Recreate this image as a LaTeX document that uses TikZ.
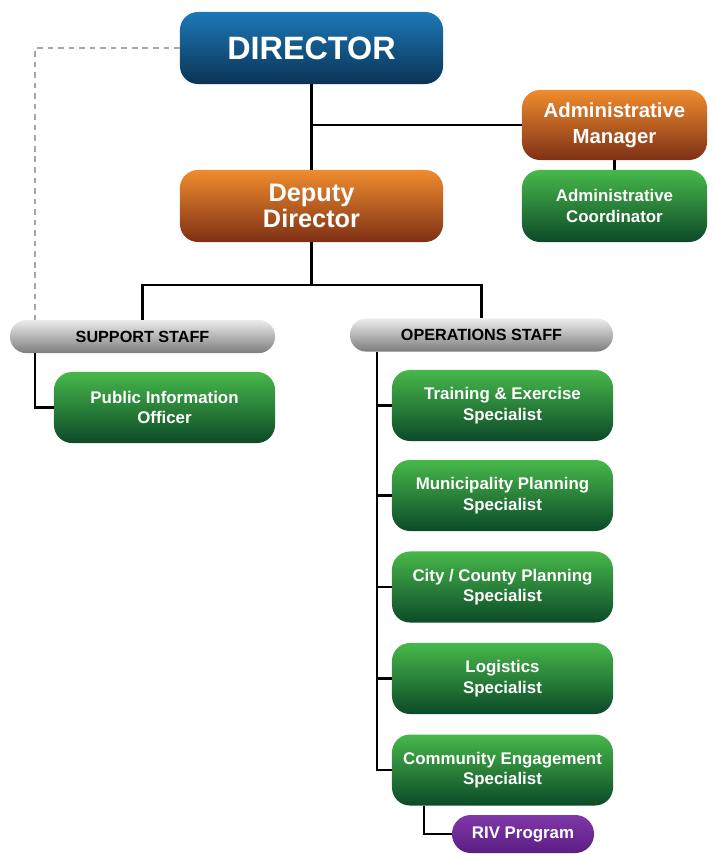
\documentclass[tikz,border=0pt]{standalone}
\usepackage{fontspec}
\setmainfont{Liberation Sans}

\definecolor{bluetop}{HTML}{1D78B8}
\definecolor{bluemid}{HTML}{13629C}
\definecolor{bluebot}{HTML}{0A3355}
\definecolor{orgtop}{HTML}{F08C2E}
\definecolor{orgmid}{HTML}{DA6C25}
\definecolor{orgbot}{HTML}{7E3015}
\definecolor{grntop}{HTML}{47B84A}
\definecolor{grnmid}{HTML}{2E9A43}
\definecolor{grnbot}{HTML}{0C4A28}
\definecolor{graytop}{HTML}{EDEDED}
\definecolor{graymid}{HTML}{D2D2D2}
\definecolor{graybot}{HTML}{7C7C7C}
\definecolor{purtop}{HTML}{8038A8}
\definecolor{purbot}{HTML}{5A1E82}

\tikzset{
    box/.style={rounded corners=0.45cm, align=center, text=white,
        font=\bfseries\fontsize{12}{14.5}\selectfont,
        inner sep=0pt},
    bluebox/.style={box, top color=bluetop, middle color=bluemid, bottom color=bluebot},
    orgbox/.style={box, top color=orgtop, middle color=orgmid, bottom color=orgbot},
    grnbox/.style={box, top color=grntop, middle color=grnmid, bottom color=grnbot,
        minimum width=5.525cm, minimum height=1.775cm},
    staffbox/.style={box, rounded corners=0.41cm, text=black,
        top color=graytop, middle color=graymid, bottom color=graybot,
        minimum height=0.83cm, font=\bfseries\fontsize{11.5}{13}\selectfont},
    purbox/.style={box, rounded corners=0.47cm, top color=purtop, bottom color=purbot,
        minimum width=3.55cm, minimum height=0.95cm},
    link/.style={line width=1.6pt, black},
    dotlink/.style={line width=1.2pt, gray!70, dash pattern=on 4pt off 3.5pt}
}

\begin{document}
\begin{tikzpicture}[x=0.025cm, y=-0.025cm]
    \useasboundingbox (0,0) rectangle (713,854);

    % top of the chart
    \node [bluebox, minimum width=6.575cm, minimum height=1.8cm,
        font=\bfseries\fontsize{23}{26}\selectfont] (dir) at (311.5,48) {DIRECTOR};
    \node [orgbox, minimum width=4.625cm, minimum height=1.75cm,
        font=\bfseries\fontsize{14.5}{18.5}\selectfont] (adm) at (614.5,125) {Administrative\\Manager};
    \node [grnbox, minimum width=4.625cm, minimum height=1.8cm] (admc) at (614.5,206) {Administrative\\Coordinator};
    \node [orgbox, minimum width=6.575cm, minimum height=1.8cm,
        font=\bfseries\fontsize{18}{18.5}\selectfont] (dep) at (311.5,206) {Deputy\\Director};

    % staff groups
    \node [staffbox, minimum width=6.625cm] (sup) at (142.5,336.5) {SUPPORT STAFF};
    \node [staffbox, minimum width=6.575cm] (ops) at (481.5,335) {OPERATIONS STAFF};

    \node [grnbox] (pio) at (164.5,407.5) {Public Information\\Officer};

    \node [grnbox] (trn) at (502.5,405.5) {Training \& Exercise\\Specialist};
    \node [grnbox] (mun) at (502.5,495.5) {Municipality Planning\\Specialist};
    \node [grnbox] (cty) at (502.5,587) {City / County Planning\\Specialist};
    \node [grnbox] (log) at (502.5,678.5) {Logistics\\Specialist};
    \node [grnbox] (ce) at (502.5,770) {Community Engagement\\Specialist};
    \node [purbox] (riv) at (523,834) {RIV Program};

    \coordinate (split) at (311.5,285);
    \coordinate (supT) at (35,320);
    \coordinate (supB) at (35,353);
    \coordinate (opsB) at (377,352);
    \coordinate (ceB) at (424,806);

    % lines
    \draw [dotlink] (dir.west) -| (supT);
    \draw [link] (dir.south) -- (dep.north);
    \draw [link] (dir.south |- adm.west) -- (adm.west);
    \draw [link] (adm.south) -- (admc.north);
    \draw [link] (dep.south) -- (split);
    \draw [link] (sup.north) |- (split) -| (ops.north);
    \draw [link] (supB) |- (pio.west);
    \draw [link] (opsB) |- (trn.west);
    \draw [link] (opsB) |- (mun.west);
    \draw [link] (opsB) |- (cty.west);
    \draw [link] (opsB) |- (log.west);
    \draw [link] (opsB) |- (ce.west);
    \draw [link] (ceB) |- (riv.west);
\end{tikzpicture}
\end{document}
